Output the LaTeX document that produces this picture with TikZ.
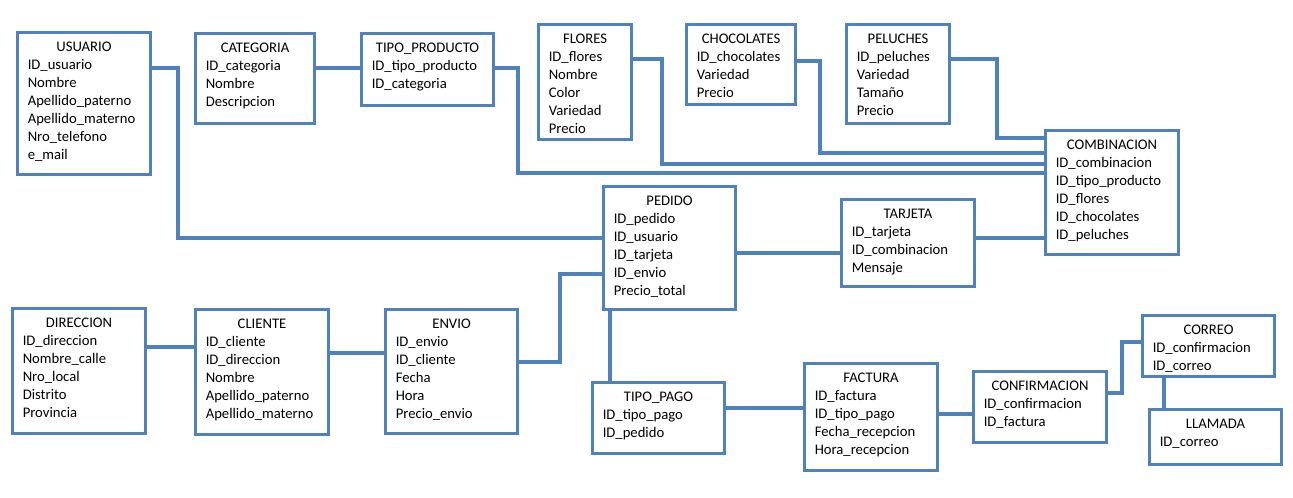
\documentclass[tikz,border=0pt]{standalone}
\usepackage{fontspec}
\setmainfont{Carlito}
\usetikzlibrary{calc}
\definecolor{erblue}{RGB}{79,129,189}
\tikzset{
  ebox/.style={draw=erblue, line width=2.3pt, fill=white, rectangle, inner sep=0pt},
  etitle/.style={inner sep=0pt, anchor=base, font=\fontsize{11pt}{13.5pt}\selectfont},
  efield/.style={inner sep=0pt, anchor=base west, font=\fontsize{11pt}{13.5pt}\selectfont},
  conn/.style={draw=erblue, line width=2.3pt}
}
\newcommand{\entity}[7]{%
  \node[ebox, minimum width={#4*0.75pt}, minimum height={#5*0.75pt}, anchor=north west] (#1) at (#2,#3) {};
  \node[etitle] (#1-t) at ($(#1.north)+(0,20)$) {#6};
  \foreach \f [count=\i] in {#7} {
    \node[efield] (#1-\i) at ($(#1.north west)+(11.5,20+18*\i)$) {\f};
  }
}
\begin{document}
\begin{tikzpicture}[x=0.75pt,y=-0.75pt]
\useasboundingbox[fill=white] (0,0) rectangle (1293,497);
\coordinate (c1a) at (178,68);
\coordinate (c1b) at (178,238);
\coordinate (c3a) at (518,68);
\coordinate (c3b) at (518,173);
\coordinate (c4a) at (662,59);
\coordinate (c4b) at (662,164);
\coordinate (c5a) at (820,61);
\coordinate (c5b) at (820,153);
\coordinate (c6a) at (997,59);
\coordinate (c6b) at (997,138);
\coordinate (c7) at (734,253);
\coordinate (c8) at (973,238);
\coordinate (c9a) at (560,362);
\coordinate (c9b) at (560,274);
\coordinate (c10) at (610,308);
\coordinate (c11) at (144,347);
\coordinate (c12) at (327,353);
\coordinate (c13) at (723,408);
\coordinate (c14) at (936,414);
\coordinate (c15a) at (1122,393);
\coordinate (c15b) at (1122,342);
\coordinate (c16) at (1164,375);

\entity{USUARIO}{16}{31}{133}{142}{USUARIO}{ID\_usuario,Nombre,Apellido\_paterno,Apellido\_materno,Nro\_telefono,e\_mail}
\entity{CATEGORIA}{194}{32}{119}{90}{CATEGORIA}{ID\_categoria,Nombre,Descripcion}
\entity{TIPOPRODUCTO}{360}{32}{132}{72}{TIPO\_PRODUCTO}{ID\_tipo\_producto,ID\_categoria}
\entity{FLORES}{537}{23}{93}{115}{FLORES}{ID\_flores,Nombre,Color,Variedad,Precio}
\entity{CHOCOLATES}{685}{23}{109}{80}{CHOCOLATES}{ID\_chocolates,Variedad,Precio}
\entity{PELUCHES}{845}{23}{103}{99}{PELUCHES}{ID\_peluches,Variedad,Tamaño,Precio}
\entity{COMBINACION}{1044}{129}{133}{124}{COMBINACION}{ID\_combinacion,ID\_tipo\_producto,ID\_flores,ID\_chocolates,ID\_peluches}
\entity{PEDIDO}{602}{185}{132}{123}{PEDIDO}{ID\_pedido,ID\_usuario,ID\_tarjeta,ID\_envio,Precio\_total}
\entity{TARJETA}{840}{198}{133}{87}{TARJETA}{ID\_tarjeta,ID\_combinacion,Mensaje}
\entity{DIRECCION}{11}{307}{133}{125}{DIRECCION}{ID\_direccion,Nombre\_calle,Nro\_local,Distrito,Provincia}
\entity{CLIENTE}{194}{308}{133}{125}{CLIENTE}{ID\_cliente,ID\_direccion,Nombre,Apellido\_paterno,Apellido\_materno}
\entity{ENVIO}{384}{308}{132}{124}{ENVIO}{ID\_envio,ID\_cliente,Fecha,Hora,Precio\_envio}
\entity{TIPOPAGO}{591}{381}{132}{71}{TIPO\_PAGO}{ID\_tipo\_pago,ID\_pedido}
\entity{FACTURA}{803}{362}{133}{107}{FACTURA}{ID\_factura,ID\_tipo\_pago,Fecha\_recepcion,Hora\_recepcion}
\entity{CONFIRMACION}{972}{370}{133}{71}{CONFIRMACION}{ID\_confirmacion,ID\_factura}
\entity{CORREO}{1141}{314}{132}{61}{CORREO}{ID\_confirmacion,ID\_correo}
\entity{LLAMADA}{1148}{408}{132}{55}{LLAMADA}{ID\_correo}

\draw[conn] (USUARIO.east |- c1a) -- (c1a) -- (c1b) -- (c1b -| PEDIDO.west);
\draw[conn] (CATEGORIA.east |- c1a) -- (TIPOPRODUCTO.west |- c1a);
\draw[conn] (TIPOPRODUCTO.east |- c3a) -- (c3a) -- (c3b) -- (c3b -| COMBINACION.west);
\draw[conn] (FLORES.east |- c4a) -- (c4a) -- (c4b) -- (c4b -| COMBINACION.west);
\draw[conn] (CHOCOLATES.east |- c5a) -- (c5a) -- (c5b) -- (c5b -| COMBINACION.west);
\draw[conn] (PELUCHES.east |- c6a) -- (c6a) -- (c6b) -- (c6b -| COMBINACION.west);
\draw[conn] (PEDIDO.east |- c7) -- (TARJETA.west |- c7);
\draw[conn] (TARJETA.east |- c8) -- (COMBINACION.west |- c8);
\draw[conn] (ENVIO.east |- c9a) -- (c9a) -- (c9b) -- (c9b -| PEDIDO.west);
\draw[conn] (PEDIDO.south -| c10) -- (TIPOPAGO.north -| c10);
\draw[conn] (DIRECCION.east |- c11) -- (CLIENTE.west |- c11);
\draw[conn] (CLIENTE.east |- c12) -- (ENVIO.west |- c12);
\draw[conn] (TIPOPAGO.east |- c13) -- (FACTURA.west |- c13);
\draw[conn] (FACTURA.east |- c14) -- (CONFIRMACION.west |- c14);
\draw[conn] (CONFIRMACION.east |- c15a) -- (c15a) -- (c15b) -- (c15b -| CORREO.west);
\draw[conn] (CORREO.south -| c16) -- (LLAMADA.north -| c16);
\end{tikzpicture}
\end{document}
